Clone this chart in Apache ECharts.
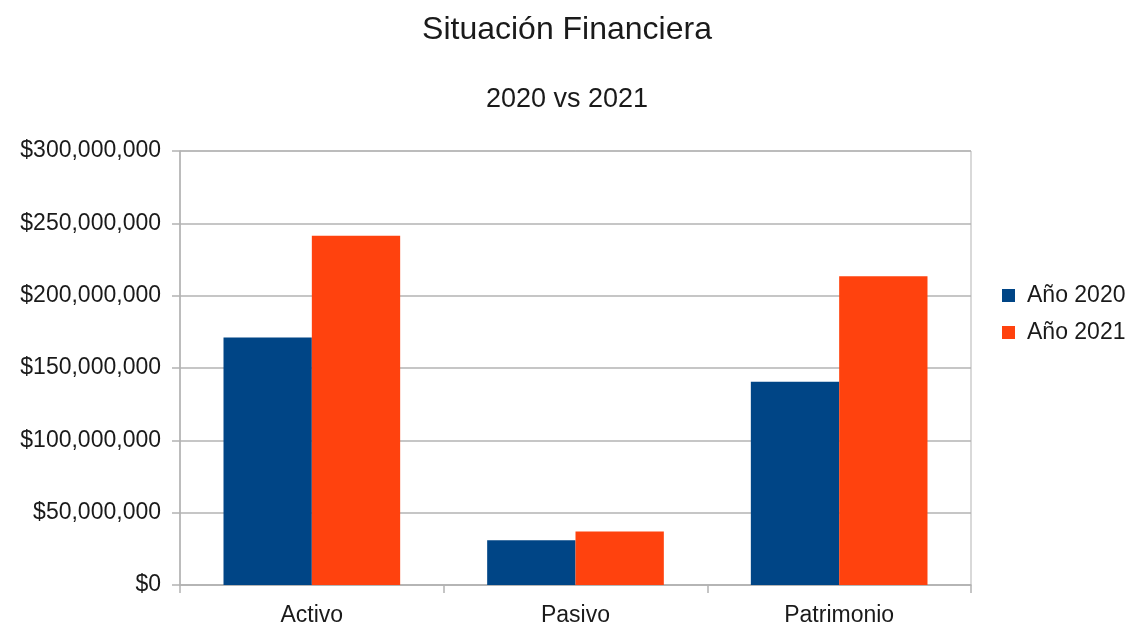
<!DOCTYPE html>
<html>
<head>
<meta charset="utf-8">
<script src="https://cdn.jsdelivr.net/npm/echarts@6/dist/echarts.min.js"></script>
<style>
  html, body { margin: 0; padding: 0; background: #fff; }
  #chart { width: 1134px; height: 628px; }
</style>
</head>
<body>
<div id="chart"></div>
<script>
// datos
const categories = ['Activo', 'Pasivo', 'Patrimonio']
const seriesNames = ['Año 2020', 'Año 2021']
const values2020 = [171000000, 31000000, 140500000]
const values2021 = [241500000, 37000000, 213500000]
const yTicks = { min: 0, max: 300000000, interval: 50000000 }

const gridColor = '#b3b3b3'
const textColor = '#1a1a1a'
const font = 'Liberation Sans'

const chart = echarts.init(document.getElementById('chart'))

function money (v) {
  return '$' + Number(v).toLocaleString('en-US')
}

chart.setOption({
  animation: false,
  color: ['#004586', '#ff420e'],
  title: [
    {
      text: 'Situación Financiera',
      left: 'center',
      top: 9,
      textStyle: { fontFamily: font, fontSize: 32, fontWeight: 'normal', color: textColor }
    },
    {
      text: '2020 vs 2021',
      left: 'center',
      top: 81,
      textStyle: { fontFamily: font, fontSize: 27, fontWeight: 'normal', color: textColor }
    }
  ],
  legend: {
    orient: 'vertical',
    left: 997,
    top: 279,
    itemWidth: 13,
    itemHeight: 13,
    itemGap: 14,
    icon: 'rect',
    data: seriesNames,
    textStyle: { fontFamily: font, fontSize: 23, color: textColor, padding: [0, 0, 0, 7] }
  },
  grid: {
    left: 180,
    right: 163,
    top: 151,
    bottom: 43,
    show: true,
    borderColor: gridColor,
    borderWidth: 1
  },
  xAxis: {
    type: 'category',
    data: categories,
    axisLine: { lineStyle: { color: gridColor, width: 1.5 } },
    axisTick: { show: true, length: 8, lineStyle: { color: gridColor, width: 1.5 } },
    axisLabel: { fontFamily: font, fontSize: 23, color: textColor, margin: 19 }
  },
  yAxis: {
    type: 'value',
    min: yTicks.min,
    max: yTicks.max,
    interval: yTicks.interval,
    axisLine: { show: true, lineStyle: { color: gridColor, width: 1.5 } },
    axisTick: { show: true, length: 8, lineStyle: { color: gridColor, width: 1.5 } },
    splitLine: { lineStyle: { color: gridColor, width: 1.5 } },
    axisLabel: { fontFamily: font, fontSize: 23, color: textColor, margin: 19, formatter: money }
  },
  series: [
    {
      name: seriesNames[0],
      type: 'bar',
      barGap: '0%',
      barCategoryGap: '33%',
      data: values2020
    },
    {
      name: seriesNames[1],
      type: 'bar',
      barGap: '0%',
      barCategoryGap: '33%',
      data: values2021
    }
  ]
})
</script>
</body>
</html>
